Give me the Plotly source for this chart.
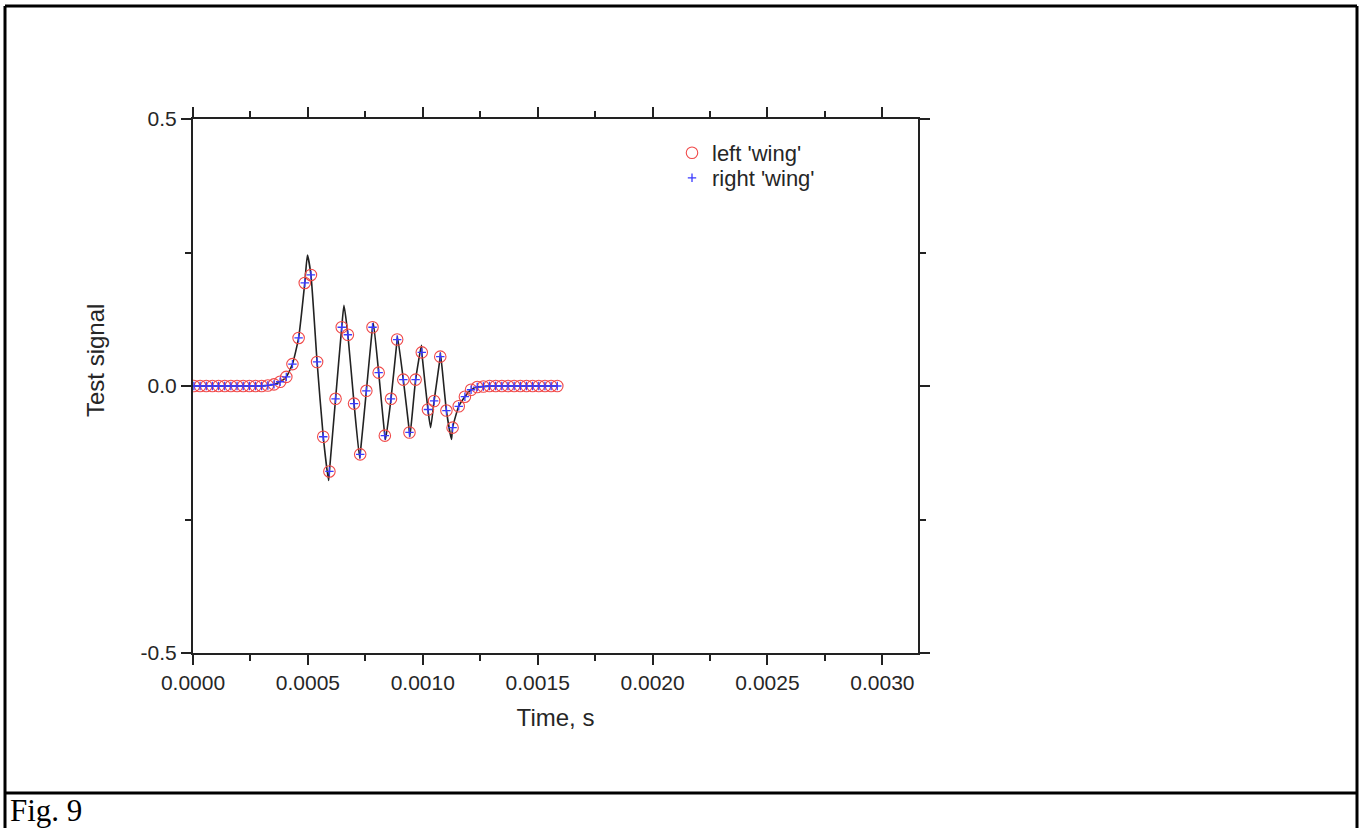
import plotly.graph_objects as go

# ---- data ----
# sample times in microseconds
sample_t_us = [4.0, 30.8, 57.6, 84.4, 111.2, 138.0, 164.8, 191.6, 218.4, 245.2,
               272.0, 298.8, 325.6, 352.4, 379.2, 406.0, 432.8, 459.6, 486.4, 513.2,
               540.0, 566.8, 593.6, 620.4, 647.2, 674.0, 700.8, 727.6, 754.4, 781.2,
               808.0, 834.8, 861.6, 888.4, 915.2, 942.0, 968.8, 995.6, 1022.4, 1049.2,
               1076.0, 1102.8, 1129.6, 1156.4, 1183.2, 1210.0, 1236.8, 1263.6, 1290.4, 1317.2,
               1344.0, 1370.8, 1397.6, 1424.4, 1451.2, 1478.0, 1504.8, 1531.6, 1558.4, 1585.2]
left_wing = [0.0, 0.0, 0.0, 0.0, 0.0, 0.0, 0.0, 0.0, 0.0, 0.0,
             0.0, 0.0, 0.001, 0.003, 0.008, 0.017, 0.041, 0.090, 0.193, 0.208,
             0.045, -0.095, -0.160, -0.024, 0.110, 0.096, -0.033, -0.128, -0.009, 0.110,
             0.025, -0.093, -0.024, 0.087, 0.012, -0.087, 0.012, 0.063, -0.044, -0.028,
             0.055, -0.046, -0.078, -0.038, -0.020, -0.007, -0.002, -0.001, 0.0, 0.0,
             0.0, 0.0, 0.0, 0.0, 0.0, 0.0, 0.0, 0.0, 0.0, 0.0]
right_wing = list(left_wing)

# extrema of the continuous test signal (between samples)
extrema_t_us = [498, 590, 657, 725, 785, 838, 890, 944, 994, 1034, 1077, 1125]
extrema_v = [0.245, -0.177, 0.151, -0.135, 0.118, -0.100, 0.093, -0.095, 0.076, -0.078, 0.062, -0.100]

x_tickvals = [0.0, 0.0005, 0.0010, 0.0015, 0.0020, 0.0025, 0.0030]
x_ticktext = ["0.0000", "0.0005", "0.0010", "0.0015", "0.0020", "0.0025", "0.0030"]
y_tickvals = [-0.5, 0.0, 0.5]
y_ticktext = ["-0.5", "0.0", "0.5"]

# ---- build ----
sample_t = [t * 1e-6 for t in sample_t_us]
pairs = sorted(list(zip(sample_t_us, left_wing)) + list(zip(extrema_t_us, extrema_v)))
line_t = [p[0] * 1e-6 for p in pairs]
line_v = [p[1] for p in pairs]

W, H = 1364, 828
ML, MR, MT, MB = 193, W - 918, 119, H - 653
PW, PH = W - ML - MR, H - MT - MB


def px(x):
    return (x - ML) / PW


def py(y):
    return (H - MB - y) / PH


FONT = "Liberation Sans, Arial, sans-serif"
TXT = "#262626"
AX = "#222222"

fig = go.Figure()
fig.add_trace(go.Scatter(x=line_t, y=line_v, mode="lines", showlegend=False,
                         line=dict(color=AX, width=1.6, shape="spline", smoothing=0.5),
                         hoverinfo="skip"))
fig.add_trace(go.Scatter(x=sample_t, y=left_wing, mode="markers", name="left 'wing'",
                         legend="legend",
                         marker=dict(symbol="circle-open", size=11.5, color="#f04a4a",
                                     line=dict(width=1.1, color="#f04a4a"))))
fig.add_trace(go.Scatter(x=sample_t, y=right_wing, mode="markers", name="right 'wing'",
                         legend="legend2",
                         marker=dict(symbol="cross-thin-open", size=6, color="#3a3aff",
                                     line=dict(width=1.3, color="#3a3aff"))))

axis_common = dict(showline=True, linecolor=AX, linewidth=2, mirror="ticks",
                   ticks="outside", ticklen=10, tickwidth=2, tickcolor=AX,
                   showgrid=False, zeroline=False,
                   tickfont=dict(family=FONT, size=21, color=TXT))

fig.update_xaxes(range=[0, 0.003155], tickvals=x_tickvals, ticktext=x_ticktext,
                 minor=dict(ticks="outside", ticklen=6, tickwidth=2, tickcolor=AX,
                            dtick=0.00025, tick0=0, showgrid=False),
                 title=dict(text="Time, s", font=dict(family=FONT, size=24, color=TXT), standoff=16),
                 **axis_common)
fig.update_yaxes(range=[-0.5, 0.5], tickvals=y_tickvals, ticktext=y_ticktext,
                 minor=dict(ticks="outside", ticklen=6, tickwidth=2, tickcolor=AX,
                            dtick=0.25, tick0=0, showgrid=False),
                 **axis_common)

shapes = []
lw = 3
for x0, y0, x1, y1 in [(5, 6, 5, 840), (1357, 6, 1357, 840), (5, 6, 1357, 6), (5, 793, 1357, 793)]:
    shapes.append(dict(type="line", xref="paper", yref="paper",
                       x0=px(x0), y0=py(y0), x1=px(x1), y1=py(y1),
                       line=dict(color="black", width=lw)))

legend_common = dict(xanchor="left", yanchor="top", bgcolor="rgba(0,0,0,0)",
                     font=dict(family=FONT, size=22, color=TXT), itemwidth=30)

fig.update_layout(
    width=W, height=H,
    margin=dict(l=ML, r=MR, t=MT, b=MB),
    paper_bgcolor="white", plot_bgcolor="white",
    shapes=shapes,
    legend=dict(x=px(672), y=py(132), **legend_common),
    legend2=dict(x=px(672), y=py(157), **legend_common),
    annotations=[
        dict(text="Fig. 9", xref="paper", yref="paper", x=px(8), y=py(830),
             xanchor="left", yanchor="bottom", showarrow=False,
             font=dict(family="Liberation Serif, Times New Roman, serif", size=31, color="black")),
        dict(text="Test signal", xref="paper", yref="paper", x=px(95), y=py(361),
             xanchor="center", yanchor="middle", textangle=-90, showarrow=False,
             font=dict(family=FONT, size=24, color=TXT)),
    ],
    showlegend=True,
)

fig.write_html("out.html", config={"displayModeBar": False},
               post_script="document.body.style.margin='0px';document.body.style.overflow='hidden';")
